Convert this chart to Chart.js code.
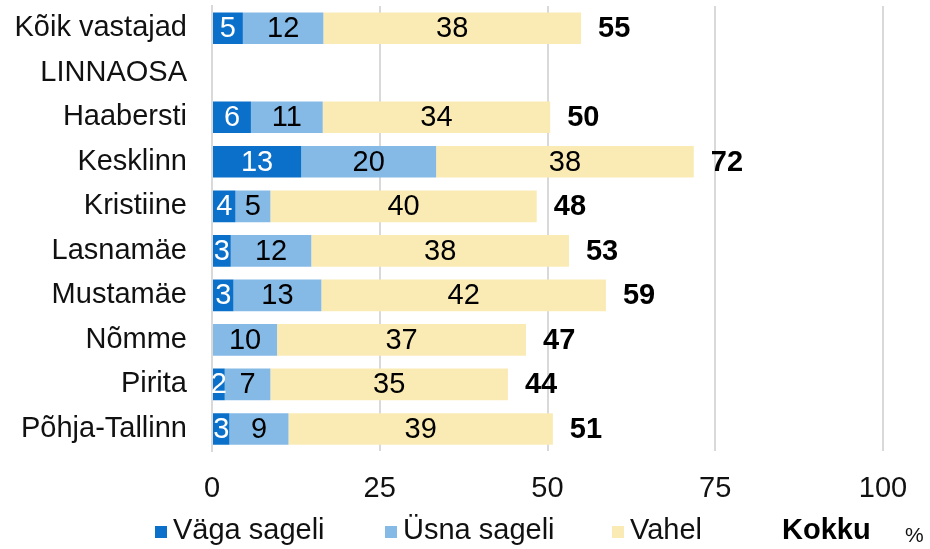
<!DOCTYPE html>
<html>
<head>
<meta charset="utf-8">
<script src="https://cdn.jsdelivr.net/npm/chart.js@4.4.1/dist/chart.umd.min.js"></script>
<style>
  html, body { margin: 0; padding: 0; background: #fff; }
</style>
</head>
<body>
<canvas id="chart" width="930" height="549"></canvas>
<script>
// --- Data ---
const categories = ['Kõik vastajad', 'LINNAOSA', 'Haabersti', 'Kesklinn', 'Kristiine',
    'Lasnamäe', 'Mustamäe', 'Nõmme', 'Pirita', 'Põhja-Tallinn'];
const seriesNames = ['Väga sageli', 'Üsna sageli', 'Vahel'];
const vagaSageli = [4.6, null, 5.8, 13.3, 3.5, 2.8, 3.2, 0, 1.9, 2.6];
const usnaSageli = [12.0, null, 10.7, 20.1, 5.2, 12.0, 13.1, 9.7, 6.8, 8.8];
const vahel = [38.4, null, 33.9, 38.4, 39.7, 38.4, 42.4, 37.1, 35.4, 39.4];
const kokku = [55, null, 50, 72, 48, 53, 59, 47, 44, 51];
const xTicks = [0, 25, 50, 75, 100];
const totalLabel = 'Kokku';
const unitLabel = '%';

const FONT = "'Liberation Sans', Arial, sans-serif";
const SIZE = 29;
const colors = ['#0A70C9', '#86BAE6', '#FAEBB4'];
const labelColors = ['#ffffff', '#000000', '#000000'];

// Numbers inside each bar segment
const segmentLabels = {
    id: 'segmentLabels',
    afterDatasetsDraw(chart) {
        const ctx = chart.ctx;
        ctx.save();
        ctx.font = SIZE + 'px ' + FONT;
        ctx.textAlign = 'center';
        ctx.textBaseline = 'middle';
        chart.data.datasets.forEach((ds, di) => {
            const meta = chart.getDatasetMeta(di);
            meta.data.forEach((bar, i) => {
                const v = ds.data[i];
                if (v == null || v < 0.5) return;
                ctx.fillStyle = labelColors[di];
                ctx.fillText(Math.round(v), (bar.x + bar.base) / 2, bar.y + 1);
            });
        });
        ctx.restore();
    }
};

// Bold totals after each bar
const totals = {
    id: 'totals',
    afterDatasetsDraw(chart) {
        const ctx = chart.ctx;
        const xs = chart.scales.x, ys = chart.scales.y;
        ctx.save();
        ctx.font = 'bold ' + SIZE + 'px ' + FONT;
        ctx.textAlign = 'left';
        ctx.textBaseline = 'middle';
        ctx.fillStyle = '#000';
        kokku.forEach((t, i) => {
            if (t == null) return;
            const sum = (vagaSageli[i] || 0) + (usnaSageli[i] || 0) + (vahel[i] || 0);
            ctx.fillText(t, xs.getPixelForValue(sum) + 17, ys.getPixelForValue(i) + 1);
        });
        ctx.restore();
    }
};

// Legend row at the bottom, Excel style
const bottomLegend = {
    id: 'bottomLegend',
    afterDraw(chart) {
        const ctx = chart.ctx;
        const y = 531;
        const boxX = [155, 385, 612];
        ctx.save();
        ctx.textBaseline = 'middle';
        ctx.textAlign = 'left';
        ctx.font = SIZE + 'px ' + FONT;
        seriesNames.forEach((name, i) => {
            ctx.fillStyle = colors[i];
            ctx.fillRect(boxX[i], y - 5, 12, 12);
            ctx.fillStyle = '#111';
            ctx.fillText(name, boxX[i] + 18, y);
        });
        ctx.font = 'bold ' + SIZE + 'px ' + FONT;
        ctx.fillStyle = '#000';
        ctx.fillText(totalLabel, 782, y);
        ctx.font = '21px ' + FONT;
        ctx.fillStyle = '#111';
        ctx.fillText(unitLabel, 905, y + 5);
        ctx.restore();
    }
};

const datasets = [vagaSageli, usnaSageli, vahel].map((data, i) => ({
    label: seriesNames[i],
    data: data,
    backgroundColor: colors[i],
    borderWidth: 0,
    barPercentage: 0.71,
    categoryPercentage: 1.0
}));

new Chart(document.getElementById('chart'), {
    type: 'bar',
    data: { labels: categories, datasets: datasets },
    options: {
        indexAxis: 'y',
        responsive: false,
        animation: false,
        layout: { padding: { left: 0, right: 47, top: 6, bottom: 23 } },
        plugins: {
            legend: { display: false },
            tooltip: { enabled: false }
        },
        scales: {
            x: {
                stacked: true,
                min: 0,
                max: 100,
                afterBuildTicks: (scale) => { scale.ticks = xTicks.map(v => ({ value: v })); },
                afterFit: (scale) => { scale.paddingLeft = 0; scale.paddingRight = 0; },
                grid: { color: '#d9d9d9', lineWidth: 2, drawTicks: false },
                border: { display: false },
                ticks: { color: '#111', font: { size: SIZE, family: FONT }, padding: 20, maxRotation: 0 }
            },
            y: {
                stacked: true,
                afterFit: (scale) => {
                    scale.width = 212;
                    scale.paddingTop = 0;
                    scale.paddingBottom = 0;
                },
                grid: { display: false, drawTicks: false },
                border: { display: true, color: '#d9d9d9', width: 2 },
                ticks: { color: '#111', font: { size: SIZE, family: FONT }, padding: 25 }
            }
        }
    },
    plugins: [segmentLabels, totals, bottomLegend]
});
</script>
</body>
</html>
